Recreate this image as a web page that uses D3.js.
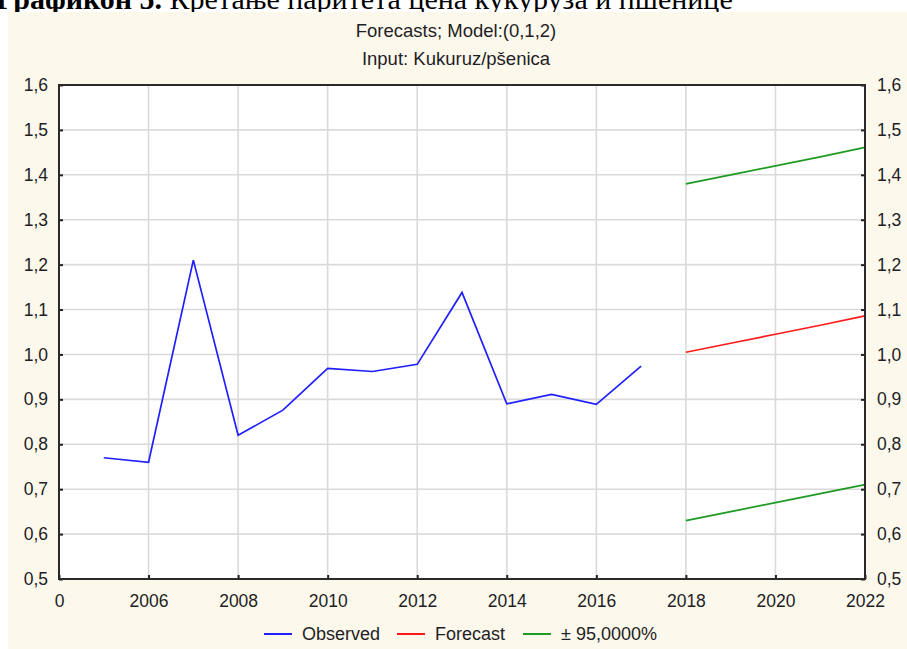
<!DOCTYPE html>
<html>
<head>
<meta charset="utf-8">
<script src="https://cdn.jsdelivr.net/npm/d3@7"></script>
<style>
  html, body { margin: 0; padding: 0; background: #ffffff; }
  svg { display: block; }
  text { font-family: "Liberation Sans", Arial, sans-serif; }
</style>
</head>
<body>
<svg id="chart" width="907" height="649"></svg>
<script>
// Observed series (yearly)
const obsYears = [2005, 2006, 2007, 2008, 2009, 2010, 2011, 2012, 2013, 2014, 2015, 2016, 2017];
const observed = [0.77, 0.76, 1.21, 0.82, 0.876, 0.969, 0.962, 0.978, 1.138, 0.89, 0.911, 0.889, 0.974];

// Forecast horizon with 95% bounds
const fcYears = [2018, 2019, 2020, 2021, 2022];
const forecast = [1.005, 1.025, 1.045, 1.065, 1.086];
const upper = [1.38, 1.40, 1.42, 1.44, 1.461];
const lower = [0.63, 0.65, 0.67, 0.69, 0.71];

// Axis ticks
const xTickValues = [2004, 2006, 2008, 2010, 2012, 2014, 2016, 2018, 2020, 2022];
const xTickLabels = ["0", "2006", "2008", "2010", "2012", "2014", "2016", "2018", "2020", "2022"];
const yTickValues = [0.5, 0.6, 0.7, 0.8, 0.9, 1.0, 1.1, 1.2, 1.3, 1.4, 1.5, 1.6];

const titleLines = ["Forecasts; Model:(0,1,2)", "Input: Kukuruz/pšenica"];
const legendItems = [
  { label: "Observed", color: "#1f1fff" },
  { label: "Forecast", color: "#ff1a1a" },
  { label: "± 95,0000%", color: "#1f9a24" }
];
const captionLead = "Графикон 5.";
const captionRest = " Кретање паритета цена кукуруза и пшенице";

const svg = d3.select("#chart");
const W = 907, H = 649;
const plot = { left: 59, top: 85, right: 865, bottom: 579 };

// Caption line above the chart panel (runs off the top of the page)
const cap = svg.append("text")
  .attr("x", -4).attr("y", 9)
  .style("font-family", "'Liberation Serif', 'Times New Roman', serif")
  .style("font-size", "30px")
  .attr("fill", "#000");
cap.append("tspan").style("font-weight", "bold").text(captionLead);
cap.append("tspan").text(captionRest);

// Chart panel background
svg.append("rect")
  .attr("x", 8).attr("y", 12)
  .attr("width", W - 8).attr("height", H - 12)
  .attr("fill", "#fdf8ec");

const x = d3.scaleLinear().domain([2004, 2022]).range([plot.left, plot.right]);
const y = d3.scaleLinear().domain([0.5, 1.6]).range([plot.bottom, plot.top]);

// Plot area
svg.append("rect")
  .attr("x", plot.left).attr("y", plot.top)
  .attr("width", plot.right - plot.left).attr("height", plot.bottom - plot.top)
  .attr("fill", "#ffffff");

// Grid
const grid = svg.append("g").attr("stroke", "#dadada").attr("stroke-width", 1.6);
grid.selectAll("line.v")
  .data(xTickValues.slice(1, -1))
  .join("line")
  .attr("x1", d => x(d)).attr("x2", d => x(d))
  .attr("y1", plot.top).attr("y2", plot.bottom);
grid.selectAll("line.h")
  .data(yTickValues.slice(1, -1))
  .join("line")
  .attr("x1", plot.left).attr("x2", plot.right)
  .attr("y1", d => y(d)).attr("y2", d => y(d));

// Series
const line = d3.line().x(d => x(d[0])).y(d => y(d[1]));
function drawSeries(xs, ys, color) {
  svg.append("path")
    .datum(xs.map((v, i) => [v, ys[i]]))
    .attr("d", line)
    .attr("fill", "none")
    .attr("stroke", color)
    .attr("stroke-width", 1.7);
}
drawSeries(obsYears, observed, legendItems[0].color);
drawSeries(fcYears, forecast, legendItems[1].color);
drawSeries(fcYears, upper, legendItems[2].color);
drawSeries(fcYears, lower, legendItems[2].color);

// Axes
const fmtY = d => d3.format(".1f")(d).replace(".", ",");
const labelColor = "#1e1e24";
const fontSize = "17.5px";

function styleAxis(g) {
  g.select(".domain").remove();
  g.selectAll(".tick line").attr("stroke", "#222").attr("stroke-width", 2);
  g.selectAll(".tick text").attr("fill", labelColor).style("font-size", fontSize)
    .style("font-family", "'Liberation Sans', Arial, sans-serif");
}

svg.append("g")
  .attr("transform", `translate(${plot.left},0)`)
  .call(d3.axisLeft(y).tickValues(yTickValues).tickFormat(fmtY).tickSizeInner(-4).tickSizeOuter(0).tickPadding(11))
  .call(styleAxis);

svg.append("g")
  .attr("transform", `translate(${plot.right},0)`)
  .call(d3.axisRight(y).tickValues(yTickValues).tickFormat(fmtY).tickSizeInner(-4).tickSizeOuter(0).tickPadding(12))
  .call(styleAxis);

svg.append("g")
  .attr("transform", `translate(0,${plot.bottom})`)
  .call(d3.axisBottom(x).tickValues(xTickValues).tickFormat((d, i) => xTickLabels[i]).tickSizeInner(-4).tickSizeOuter(0).tickPadding(16))
  .call(styleAxis);

// Plot frame
svg.append("rect")
  .attr("x", plot.left).attr("y", plot.top)
  .attr("width", plot.right - plot.left).attr("height", plot.bottom - plot.top)
  .attr("fill", "none")
  .attr("stroke", "#2a2a2a")
  .attr("stroke-width", 2);

// Titles
svg.selectAll("text.title")
  .data(titleLines)
  .join("text")
  .attr("class", "title")
  .attr("x", 456)
  .attr("y", (d, i) => 30 + i * 28)
  .attr("text-anchor", "middle")
  .attr("dominant-baseline", "central")
  .attr("fill", labelColor)
  .style("font-size", "18.5px")
  .text(d => d);

// Legend
const legendX = [264, 397, 523];
const legend = svg.append("g");
legendItems.forEach((item, i) => {
  legend.append("line")
    .attr("x1", legendX[i]).attr("x2", legendX[i] + 28)
    .attr("y1", 634).attr("y2", 634)
    .attr("stroke", item.color).attr("stroke-width", 2);
  legend.append("text")
    .attr("x", legendX[i] + 38).attr("y", 634)
    .attr("dominant-baseline", "central")
    .attr("fill", labelColor)
    .style("font-size", "18px")
    .text(item.label);
});
</script>
</body>
</html>
